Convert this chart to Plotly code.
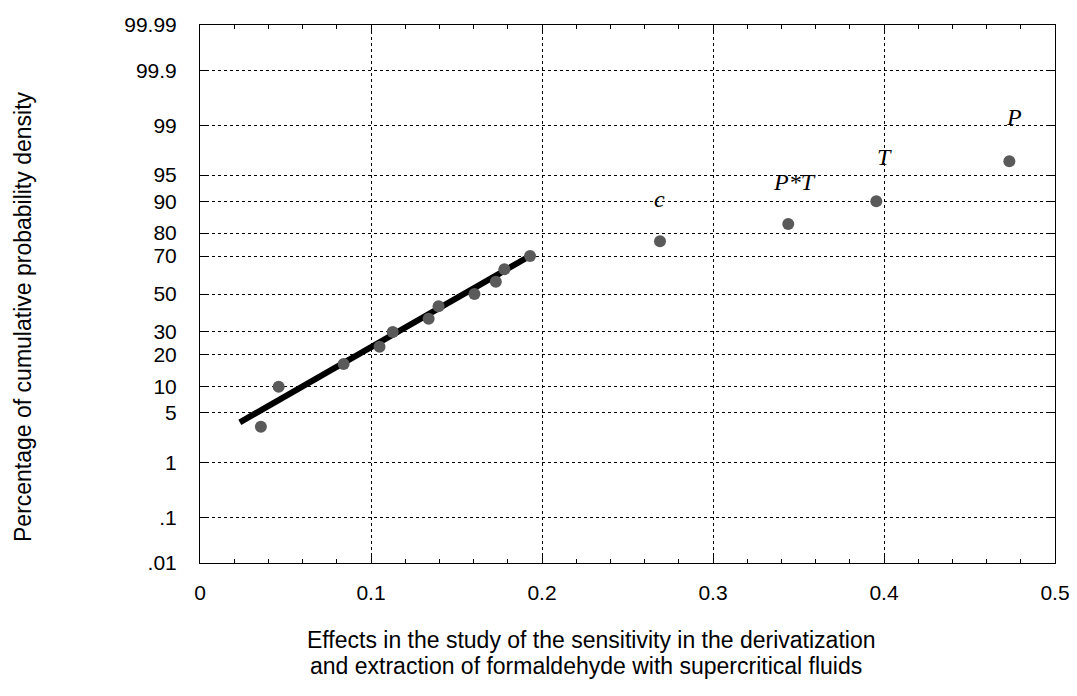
import plotly.graph_objects as go
from statistics import NormalDist

nd = NormalDist()

# Effects (x) and cumulative probability (%) for the normal probability plot
effects = [0.0356, 0.046, 0.084, 0.105, 0.1127, 0.1337, 0.1395, 0.1605, 0.173, 0.178, 0.193,
           0.269, 0.344, 0.3955, 0.4733]
probs = [3.33, 10.0, 16.67, 23.33, 30.0, 36.67, 43.33, 50.0, 56.67, 63.33, 70.0,
         76.67, 83.33, 90.0, 96.67]
labels = ["", "", "", "", "", "", "", "", "", "", "", "c", "P*T", "T", "P"]

# fitted line endpoints
line_x = [0.0233, 0.195]
line_p = [3.8, 71.0]

ytick_vals = [0.01, 0.1, 1, 5, 10, 20, 30, 50, 70, 80, 90, 95, 99, 99.9, 99.99]
ytick_text = [".01", ".1", "1", "5", "10", "20", "30", "50", "70", "80", "90", "95", "99", "99.9", "99.99"]
xtick_vals = [0, 0.1, 0.2, 0.3, 0.4, 0.5]
xtick_text = ["0", "0.1", "0.2", "0.3", "0.4", "0.5"]

def z(p):
    return nd.inv_cdf(p / 100.0)

fig = go.Figure()
fig.add_trace(go.Scatter(x=line_x, y=[z(p) for p in line_p], mode="lines",
                         line=dict(color="black", width=6), showlegend=False, hoverinfo="skip"))
fig.add_trace(go.Scatter(x=effects, y=[z(p) for p in probs], mode="markers",
                         marker=dict(color="#5a5a5a", size=12, line=dict(width=0)),
                         showlegend=False))

label_shift = {"c": (0, 42), "P*T": (6, 42), "T": (8, 44), "P": (5, 44)}
for xv, pv, lab in zip(effects, probs, labels):
    if lab:
        dx, dy = label_shift[lab]
        fig.add_annotation(x=xv, y=z(pv), text="<i>" + lab + "</i>", showarrow=False,
                           xref="x", yref="y", yshift=dy, xshift=dx,
                           font=dict(family="Liberation Serif, Times New Roman, serif",
                                     size=24, color="black"))

axis_font = dict(family="Liberation Sans, Arial, sans-serif", size=21, color="black")
ylo, yhi = z(0.01), z(99.99)
dash = "3px,3px"

fig.update_xaxes(range=[0, 0.5], tickvals=xtick_vals, ticktext=xtick_text, automargin=False,
                 showgrid=True, gridcolor="black", griddash=dash, gridwidth=1,
                 showline=True, linecolor="black", linewidth=1, mirror="allticks",
                 ticks="inside", ticklen=7, tickcolor="black",
                 minor=dict(dtick=0.02, tick0=0, ticks="inside", ticklen=4, tickcolor="black", showgrid=False),
                 tickfont=axis_font, ticklabelstandoff=11, zeroline=False)
fig.update_yaxes(range=[ylo, yhi], tickvals=[z(v) for v in ytick_vals], ticktext=ytick_text, automargin=False,
                 showgrid=True, gridcolor="black", griddash=dash, gridwidth=1,
                 showline=True, linecolor="black", linewidth=1, mirror="allticks",
                 ticks="inside", ticklen=8, tickcolor="black",
                 tickfont=axis_font, ticklabelstandoff=18, zeroline=False)

title_font = dict(family="Liberation Sans, Arial, sans-serif", size=23, color="black")
fig.add_annotation(text="Effects in the study of the sensitivity in the derivatization",
                   xref="paper", yref="paper", x=(591 - 200) / 855, y=(563 - 640) / 538,
                   xanchor="center", yanchor="middle", showarrow=False, font=title_font)
fig.add_annotation(text="and extraction of formaldehyde with supercritical fluids",
                   xref="paper", yref="paper", x=(586 - 200) / 855, y=(563 - 666) / 538,
                   xanchor="center", yanchor="middle", showarrow=False, font=title_font)
fig.add_annotation(text="Percentage of cumulative probability density",
                   xref="paper", yref="paper", x=(23 - 200) / 855, y=(563 - 317) / 538,
                   xanchor="center", yanchor="middle", showarrow=False, textangle=-90,
                   font=title_font)

# page has an 8px body margin, so the figure is offset by 8px; compensate in the margins
fig.update_layout(width=1077, height=696, margin=dict(l=192, r=30, t=17, b=141, autoexpand=False),
                  plot_bgcolor="white", paper_bgcolor="white")

fig.write_html("out.html")
